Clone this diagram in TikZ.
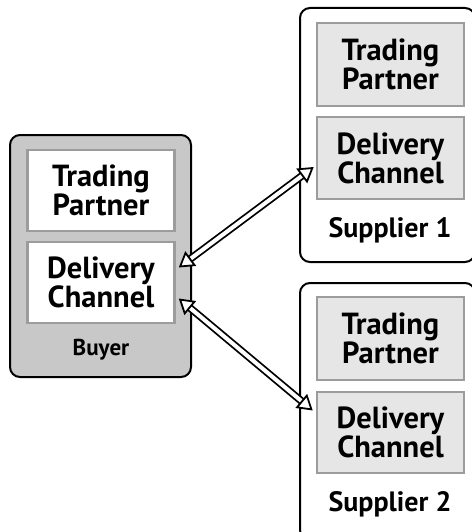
\documentclass[tikz,border=0pt]{standalone}
\usepackage{fontspec}
\setmainfont{PT Sans}
\usepackage{tikz}
\usetikzlibrary{arrows.meta}
\definecolor{boxgray}{HTML}{C8C8C8}
\definecolor{innergray}{HTML}{E6E6E6}
\definecolor{rimgray}{HTML}{9C9C9C}

\begin{document}
\begin{tikzpicture}[x=1pt,y=-1pt,
  party/.style={draw=black, line width=2pt, rounded corners=10pt, inner sep=0pt},
  part/.style={draw=rimgray, line width=2.5pt, inner sep=0pt, align=center,
    minimum width=147pt, font=\fontsize{30.5}{28}\selectfont\bfseries},
  tag/.style={font=\fontsize{28}{28}\selectfont\bfseries},
  link/.style={line width=1.8pt, double=white, double distance=4pt,
    {Triangle[open,fill=white,length=15pt,width=18pt,line width=1.8pt]}-{Triangle[open,fill=white,length=15pt,width=18pt,line width=1.8pt]}}]
  \useasboundingbox (0,0) rectangle (471,532);
  % buyer
  \node[party, fill=boxgray, minimum width=181pt, minimum height=242pt] (buyer) at (100.5,256) {};
  \node[part, fill=white, minimum height=81pt] (btp) at (101,190.5) {Trading\\Partner};
  \node[part, fill=white, minimum height=81pt] (bdc) at (101,282.5) {Delivery\\Channel};
  \node[tag, font=\fontsize{23}{23}\selectfont\bfseries] (bname) at (101,350) {Buyer};
  % supplier 1
  \node[party, fill=white, minimum width=175pt, minimum height=254pt] (sup1) at (387.5,135) {};
  \node[part, fill=innergray, minimum height=83pt] (stp1) at (390.5,64.5) {Trading\\Partner};
  \node[part, fill=innergray, minimum height=82pt] (sdc1) at (390.5,158) {Delivery\\Channel};
  \node[tag] (sname1) at (390,230) {Supplier 1};
  % supplier 2
  \node[party, fill=white, minimum width=175pt, minimum height=257pt] (sup2) at (387.5,411.5) {};
  \node[part, fill=innergray, minimum height=83pt] (stp2) at (390.5,338.5) {Trading\\Partner};
  \node[part, fill=innergray, minimum height=81pt] (sdc2) at (390.5,432.5) {Delivery\\Channel};
  \node[tag] (sname2) at (390,504) {Supplier 2};
  % links
  \draw[link] ([xshift=3pt,yshift=15pt]bdc.east) -- ([xshift=-2pt,yshift=-9pt]sdc1.west);
  \draw[link] ([xshift=3pt,yshift=-16pt]bdc.east) -- ([xshift=-3pt,yshift=22pt]sdc2.west);
\end{tikzpicture}
\end{document}
